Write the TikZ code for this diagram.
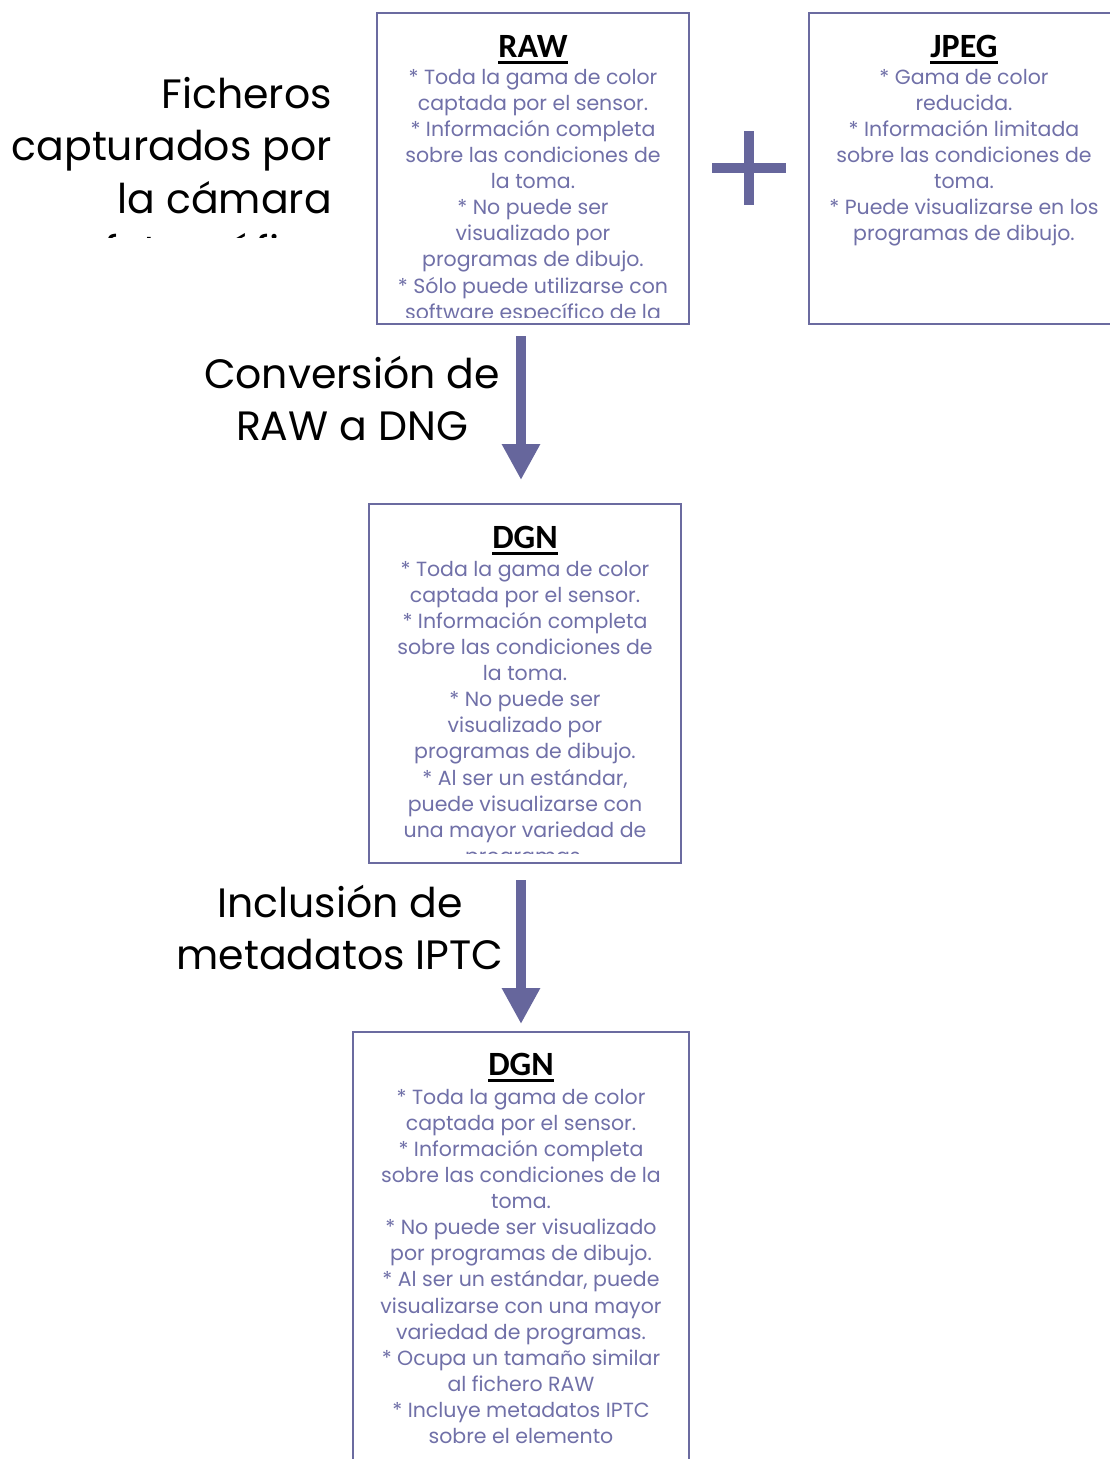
\documentclass[tikz,border=0pt]{standalone}
\usepackage{fontspec}
\setmainfont{Poppins}
\newfontfamily\headfont{Carlito}
\usetikzlibrary{arrows.meta}
\definecolor{boxline}{RGB}{107,107,160}
\definecolor{boxtext}{RGB}{112,112,168}
\definecolor{arrowfill}{RGB}{102,102,156}
\newcommand{\firstB}{\rule{0pt}{20pt}}
\newcommand{\firstL}{\rule{0pt}{41pt}}
\tikzset{
  box/.style={draw=boxline, line width=2pt, fill=white, inner sep=0pt},
  title/.style={font=\headfont\bfseries\fontsize{34}{40}\selectfont, text=black, inner sep=0pt, anchor=base},
  body/.style={font=\fontsize{20.5}{26.1}\selectfont, text=boxtext, align=center, inner sep=0pt, anchor=north},
  label/.style={font=\fontsize{41}{52.5}\selectfont, text=black, inner sep=0pt, anchor=north},
  bigarrow/.style={draw=arrowfill, line width=10pt, -{Triangle[length=36pt,width=36pt]}, arrowfill},
  uline/.style={line width=3pt, black}
}
\begin{document}
\begin{tikzpicture}[x=1pt,y=-1pt]
\useasboundingbox (0,0) rectangle (1110,1459);
\fill[white] (0,0) rectangle (1110,1459);

% boxes
\node[box, minimum width=312, minimum height=311] (raw) at (533,168.5) {};
\node[box, minimum width=310, minimum height=311] (jpeg) at (964,168.5) {};
\node[box, minimum width=312, minimum height=359] (dgn1) at (525,683.5) {};
\node[box, minimum width=336, minimum height=440] (dgn2) at (521,1252) {};

% left label
\begin{scope}
\clip (0,0) rectangle (360,237);
\node[label, align=right, anchor=north east] (lab1) at (332,67) {\firstL Ficheros\\capturados por\\la cámara\\fotográfica};
\end{scope}

% RAW content
\node[title] (rawt) at (533,57) {RAW};
\draw[uline] ([yshift=-5]rawt.base west) -- ([yshift=-5]rawt.base east);
\begin{scope}
\clip (378,14) rectangle (688,317);
\node[body] (rawb) at (533,64) {\firstB* Toda la gama de color\\captada por el sensor.\\* Información completa\\sobre las condiciones de\\la toma.\\* No puede ser\\visualizado por\\programas de dibujo.\\* Sólo puede utilizarse con\\software específico de la};
\end{scope}

% plus
\draw[arrowfill, line width=10pt] (712,168) -- (786,168);
\draw[arrowfill, line width=10pt] (749,131) -- (749,205);

% JPEG content
\node[title] (jpegt) at (964,57) {JPEG};
\draw[uline] ([yshift=-5]jpegt.base west) -- ([yshift=-5]jpegt.base east);
\node[body] (jpegb) at (964,64) {\firstB* Gama de color\\reducida.\\* Información limitada\\sobre las condiciones de\\toma.\\* Puede visualizarse en los\\programas de dibujo.};

% arrow 1
\coordinate (a1s) at (521,336);
\coordinate (a1e) at (521,480);
\draw[bigarrow] (a1s) -- (a1e);
\node[label, align=center] (lab2) at (352,347) {\firstL Conversión de\\RAW a DNG};

% DGN1 content
\node[title] (d1t) at (525,548) {DGN};
\draw[uline] ([yshift=-5]d1t.base west) -- ([yshift=-5]d1t.base east);
\begin{scope}
\clip (370,505) rectangle (680,853);
\node[body] (d1b) at (525,556) {\firstB* Toda la gama de color\\captada por el sensor.\\* Información completa\\sobre las condiciones de\\la toma.\\* No puede ser\\visualizado por\\programas de dibujo.\\* Al ser un estándar,\\puede visualizarse con\\una mayor variedad de\\programas.};
\end{scope}

% arrow 2
\coordinate (a2s) at (521,880);
\coordinate (a2e) at (521,1024);
\draw[bigarrow] (a2s) -- (a2e);
\node[label, align=center] (lab3) at (340,876) {\firstL Inclusión de\\metadatos IPTC};

% DGN2 content
\node[title] (d2t) at (521,1075) {DGN};
\draw[uline] ([yshift=-5]d2t.base west) -- ([yshift=-5]d2t.base east);
\node[body] (d2b) at (521,1084) {\firstB* Toda la gama de color\\captada por el sensor.\\* Información completa\\sobre las condiciones de la\\toma.\\* No puede ser visualizado\\por programas de dibujo.\\* Al ser un estándar, puede\\visualizarse con una mayor\\variedad de programas.\\* Ocupa un tamaño similar\\al fichero RAW\\* Incluye metadatos IPTC\\sobre el elemento};
\end{tikzpicture}
\end{document}
